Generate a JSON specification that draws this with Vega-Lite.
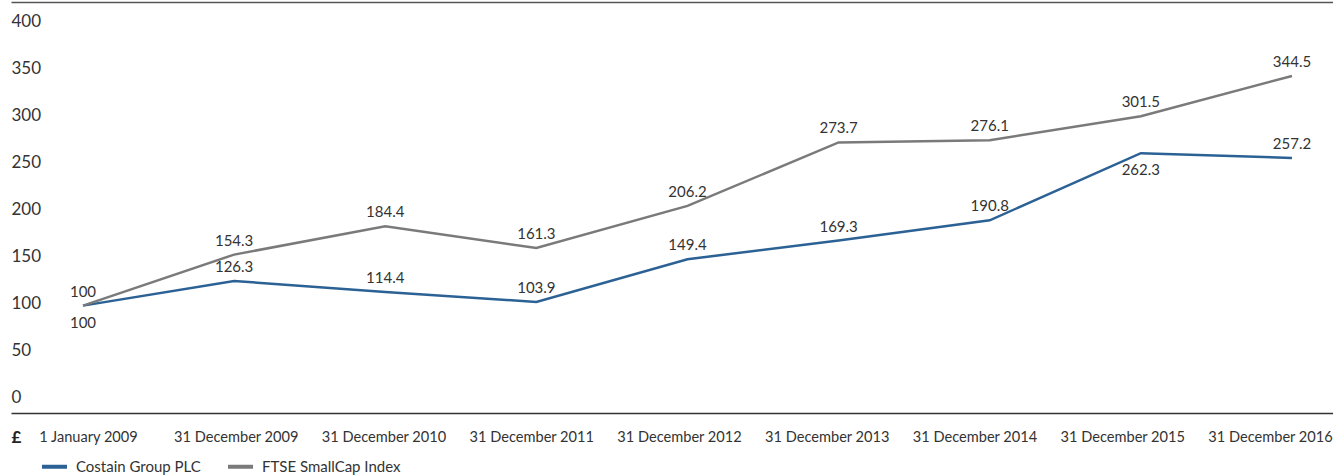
{
  "$schema": "https://vega.github.io/schema/vega-lite/v6.json",
  "width": 1322,
  "height": 411,
  "autosize": {"type": "none"},
  "padding": {"left": 11, "top": 2, "right": 0, "bottom": 63},
  "config": {"view": {"stroke": null}, "font": "Lato", "axis": {"grid": false}},
  "data": {
    "values": [
      {"date": "1 January 2009", "series": "Costain Group PLC", "value": 100},
      {"date": "31 December 2009", "series": "Costain Group PLC", "value": 126.3},
      {"date": "31 December 2010", "series": "Costain Group PLC", "value": 114.4},
      {"date": "31 December 2011", "series": "Costain Group PLC", "value": 103.9},
      {"date": "31 December 2012", "series": "Costain Group PLC", "value": 149.4},
      {"date": "31 December 2013", "series": "Costain Group PLC", "value": 169.3},
      {"date": "31 December 2014", "series": "Costain Group PLC", "value": 190.8},
      {"date": "31 December 2015", "series": "Costain Group PLC", "value": 262.3},
      {"date": "31 December 2016", "series": "Costain Group PLC", "value": 257.2},
      {"date": "1 January 2009", "series": "FTSE SmallCap Index", "value": 100},
      {"date": "31 December 2009", "series": "FTSE SmallCap Index", "value": 154.3},
      {"date": "31 December 2010", "series": "FTSE SmallCap Index", "value": 184.4},
      {"date": "31 December 2011", "series": "FTSE SmallCap Index", "value": 161.3},
      {"date": "31 December 2012", "series": "FTSE SmallCap Index", "value": 206.2},
      {"date": "31 December 2013", "series": "FTSE SmallCap Index", "value": 273.7},
      {"date": "31 December 2014", "series": "FTSE SmallCap Index", "value": 276.1},
      {"date": "31 December 2015", "series": "FTSE SmallCap Index", "value": 301.5},
      {"date": "31 December 2016", "series": "FTSE SmallCap Index", "value": 344.5}
    ]
  },
  "layer": [
    {
      "encoding": {
        "x": {
          "field": "date", "type": "ordinal", "sort": null,
          "scale": {"type": "point", "padding": 0.374, "align": 0.637},
          "axis": {"orient": "top", "labels": false, "ticks": false, "tickSize": 0, "title": null, "domainColor": "#555555", "domainWidth": 1.5}
        },
        "y": {
          "field": "value", "type": "quantitative",
          "scale": {"domain": [-14.3, 423.2], "nice": false, "zero": false},
          "axis": {"values": [0, 50, 100, 150, 200, 250, 300, 350, 400], "labelAlign": "left", "labelPadding": 0, "ticks": false, "tickSize": 0, "domain": false, "title": null, "labelFontSize": 17, "labelColor": "#333333", "labelOffset": -2}
        }
      },
      "layer": [
        {
          "mark": {"type": "line", "strokeWidth": 2.5},
          "encoding": {
            "color": {
              "field": "series", "type": "nominal",
              "scale": {"domain": ["Costain Group PLC", "FTSE SmallCap Index"], "range": ["#2b6194", "#7a7a7a"]},
              "legend": {"orient": "none", "legendX": 29, "legendY": 450, "direction": "horizontal", "title": null, "symbolType": "stroke", "symbolSize": 625, "symbolStrokeWidth": 4, "labelFontSize": 15, "labelColor": "#333333", "columnPadding": 19, "labelOffset": 7, "labelBaseline": "middle"}
            }
          }
        },
        {
          "transform": [{"filter": "!(datum.series == 'Costain Group PLC' && (datum.date == '1 January 2009' || datum.date == '31 December 2015'))"}],
          "mark": {"type": "text", "dy": -14, "fontSize": 15, "color": "#333333"},
          "encoding": {"text": {"field": "value", "type": "quantitative", "format": ".1~f"}}
        },
        {
          "transform": [{"filter": "datum.series == 'Costain Group PLC' && (datum.date == '1 January 2009' || datum.date == '31 December 2015')"}],
          "mark": {"type": "text", "dy": 17, "fontSize": 15, "color": "#333333"},
          "encoding": {"text": {"field": "value", "type": "quantitative", "format": ".1~f"}}
        }
      ]
    },
    {
      "mark": {"type": "point", "opacity": 0},
      "encoding": {
        "x": {
          "field": "date", "type": "ordinal", "sort": null,
          "scale": {"type": "point", "padding": 0.4738, "align": 0.55},
          "axis": {"orient": "bottom", "ticks": false, "tickSize": 0, "labelPadding": 16, "labelFontSize": 14.6, "labelColor": "#333333", "labelAngle": 0, "labelFlush": false, "labelOverlap": false, "domainColor": "#333333", "domainWidth": 1.5, "title": "£", "titleX": 0, "titleY": 24, "titleAlign": "left", "titleBaseline": "middle", "titleAngle": 0, "titleFontWeight": "bold", "titleFontSize": 17, "titleColor": "#222222"}
        }
      }
    }
  ],
  "resolve": {"scale": {"x": "independent"}, "axis": {"x": "independent"}}
}
